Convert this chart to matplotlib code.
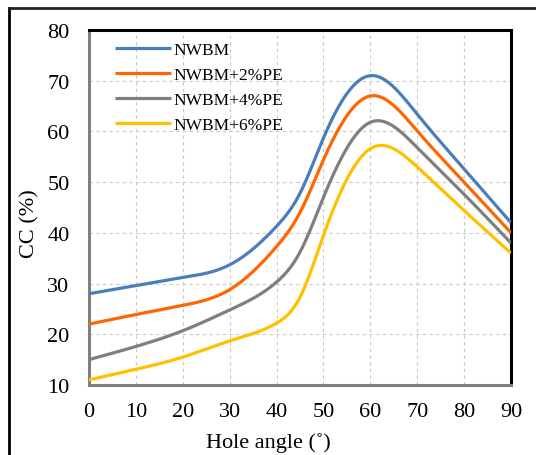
"""
CC vs hole angle for the NWBM mixes, with and without PE.
Smoothed lines in the style of the spreadsheet chart.
"""
import numpy as np
import matplotlib
matplotlib.use('Agg')
import matplotlib.pyplot as plt
from matplotlib.lines import Line2D

# Values
hole_angle = [0, 10, 20, 30, 40, 45, 50, 60, 70, 80, 90]
cc_nwbm = [28, 29.6, 31.2, 33.7, 41.3, 47.8, 58.7, 71, 63.4, 52.6, 42]
cc_pe2 = [22, 23.9, 25.7, 28.8, 37.3, 44, 54.4, 67, 60.1, 50, 40]
cc_pe4 = [15, 17.6, 20.7, 24.8, 30.3, 36.2, 47, 61.8, 56.8, 47.6, 38]
cc_pe6 = [11, 13.1, 15.5, 18.7, 22.2, 27.3, 39.5, 56.6, 53, 44.4, 36]
labels = ['NWBM', 'NWBM+2%PE', 'NWBM+4%PE', 'NWBM+6%PE']
colors = ['#4a7ebb', '#ff6600', '#7f7f7f', '#ffc000']


def smooth_line(x, y, n=400):
    # natural cubic spline through the points (for drawing only)
    x = np.asarray(x, dtype=float)
    y = np.asarray(y, dtype=float)
    k = len(x)
    h = np.diff(x)
    A = np.zeros((k, k))
    b = np.zeros(k)
    A[0, 0] = 1
    A[-1, -1] = 1
    for i in range(1, k - 1):
        A[i, i - 1] = h[i - 1]
        A[i, i] = 2 * (h[i - 1] + h[i])
        A[i, i + 1] = h[i]
        b[i] = 6 * ((y[i + 1] - y[i]) / h[i] - (y[i] - y[i - 1]) / h[i - 1])
    M = np.linalg.solve(A, b)
    xs = np.linspace(x[0], x[-1], n)
    idx = np.clip(np.searchsorted(x, xs) - 1, 0, k - 2)
    x0, x1 = x[idx], x[idx + 1]
    hh = x1 - x0
    a = (x1 - xs) / hh
    c = (xs - x0) / hh
    ys = (a * y[idx] + c * y[idx + 1]
          + ((a**3 - a) * M[idx] + (c**3 - c) * M[idx + 1]) * hh**2 / 6)
    return xs, ys


plt.rcParams['font.family'] = ['Liberation Serif', 'DejaVu Serif']

fig = plt.figure(figsize=(5.36, 4.56), dpi=100)
ax = fig.add_axes([89 / 536, 1 - 386 / 456, (511 - 89) / 536, (386 - 31) / 456])

for series, lab, col in zip([cc_nwbm, cc_pe2, cc_pe4, cc_pe6], labels, colors):
    xs, ys = smooth_line(hole_angle, series)
    ax.plot(xs, ys, color=col, lw=2.3, label=lab, solid_capstyle='butt', zorder=3)

ax.set_xlim(0, 90)
ax.set_ylim(10, 80)
ax.set_xticks(np.arange(0, 91, 10))
ax.set_yticks(np.arange(10, 81, 10))
ax.grid(True, color='#c8c8c8', lw=0.8, ls=(0, (3, 3)))
ax.set_axisbelow(True)
ax.tick_params(length=0, labelsize=16)
ax.tick_params(axis='x', pad=12)
ax.tick_params(axis='y', pad=14)

# spreadsheet look: dark top/right, grey left/bottom
for side in ['top', 'right']:
    ax.spines[side].set_color('black')
    ax.spines[side].set_linewidth(2.2)
for side in ['left', 'bottom']:
    ax.spines[side].set_color('#808080')
    ax.spines[side].set_linewidth(2.2)

leg = ax.legend(loc='upper left', bbox_to_anchor=(0.038, 0.995), frameon=False,
                fontsize=12.5, handlelength=3.2, handletextpad=0.15, labelspacing=0.5,
                borderaxespad=0.2)

fig.text(268 / 536, 1 - 448 / 456, 'Hole angle (\u02da)', ha='center', va='baseline', fontsize=16)
fig.text(30 / 536, 1 - 224 / 456, 'CC (%)', ha='center', va='center', rotation=90, fontsize=16)

# outer frame, only left and top edges show
fig.add_artist(Line2D([9 / 536, 9 / 536], [0, 1 - 9 / 456], color='black', lw=2,
                      transform=fig.transFigure))
fig.add_artist(Line2D([9 / 536, 1], [1 - 9 / 456, 1 - 9 / 456], color='#222222', lw=2,
                      transform=fig.transFigure))

plt.savefig('out.png', dpi=100)
plt.close()
